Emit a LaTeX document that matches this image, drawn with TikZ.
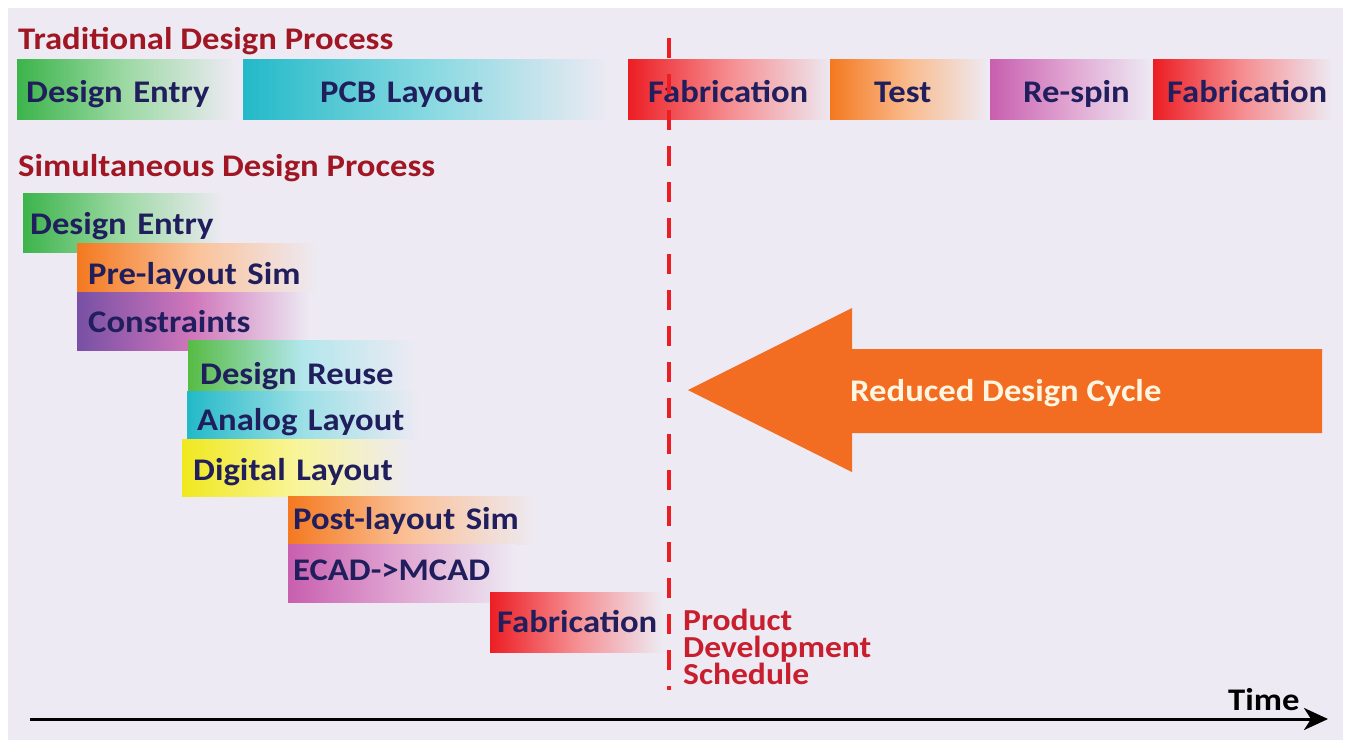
\documentclass[tikz,border=0pt]{standalone}
\usepackage{fontspec}
\setmainfont{Carlito}[FakeStretch=1.1]
\usetikzlibrary{arrows.meta}
\definecolor{bgc}{RGB}{237,234,243}
\definecolor{navy}{RGB}{32,30,92}
\definecolor{titlered}{RGB}{160,22,35}
\definecolor{pdsred}{RGB}{200,30,45}
\definecolor{cgreen}{RGB}{60,180,75}
\definecolor{ccyan}{RGB}{35,185,200}
\definecolor{cred}{RGB}{236,30,36}
\definecolor{corange}{RGB}{244,121,32}
\definecolor{cmagenta}{RGB}{200,95,175}
\definecolor{cpurple}{RGB}{120,80,165}
\definecolor{cyellow}{RGB}{240,232,30}
\definecolor{arrowor}{RGB}{242,108,34}
\definecolor{cream}{RGB}{255,246,225}
\newcommand\lblfont{\bfseries\fontsize{31.5}{34}\selectfont}
\begin{document}
\begin{tikzpicture}[x=1pt,y=-1pt,
  bar/.style={anchor=north west, inner ysep=0pt, align=left, font=\lblfont, text=navy},
  barbox/.style n args={4}{text height=#1pt, text depth=#2pt, text width=#3pt, inner xsep=#4pt},
  title/.style={anchor=base west, inner sep=0pt, font=\lblfont, text=titlered},
  dashline/.style={draw=cred, line width=4pt, dash pattern=on 20pt off 16pt},
  axis/.style={line width=3pt, -{Stealth[length=24pt,width=22pt,inset=7pt]}}
]
\useasboundingbox (0,0) rectangle (1351,740);
\fill[white] (0,0) rectangle (1351,740);
\fill[bgc] (8,8) rectangle (1343,740);

% titles
\node[title] (ttrad) at (18,49) {Traditional Design Process};
\node[title] (tsim) at (18,176) {Simultaneous Design Process};

% traditional row (top 59, bottom 119, baseline 102)
\node[bar, barbox={43}{17}{200}{9}, left color=cgreen, right color=bgc, middle color=cgreen!50!white] (t1) at (17,59) {\mbox{Design Entry}};
\node[bar, barbox={43}{17}{211}{77}, left color=ccyan, right color=bgc, middle color=ccyan!55!white] (t2) at (243,59) {\mbox{PCB Layout}};
\node[bar, barbox={43}{17}{165}{20}, left color=cred, right color=bgc, middle color=cred!50!white] (t3) at (628,59) {\mbox{Fabrication}};
\node[bar, barbox={43}{17}{70}{44}, left color=corange, right color=bgc, middle color=corange!50!white] (t4) at (830,59) {\mbox{Test}};
\node[bar, barbox={43}{17}{96}{33}, left color=cmagenta, right color=bgc, middle color=cmagenta!55!white] (t5) at (990,59) {\mbox{Re-spin}};
\node[bar, barbox={43}{17}{152}{14}, left color=cred, right color=bgc, middle color=cred!50!white] (t6) at (1153,59) {\mbox{Fabrication}};

% simultaneous
\node[bar, barbox={41}{18}{186}{7}, left color=cgreen, right color=bgc, middle color=cgreen!50!white] (s1) at (23,193) {\mbox{Design Entry}};
\node[bar, barbox={41}{8}{218}{11}, left color=corange, right color=bgc, middle color=corange!45!white] (s2) at (77,243) {\mbox{Pre-layout Sim}};
\node[bar, barbox={40}{18}{210}{11}, left color=cpurple, right color=bgc, middle color=cmagenta!85!white] (s3) at (77,292) {\mbox{Constraints}};
\node[bar, barbox={44}{7}{204}{12}, left color=cgreen!85!cyellow, right color=bgc, middle color=ccyan!35!white] (s4) at (188,340) {\mbox{Design Reuse}};
\node[bar, barbox={39}{9}{212}{10}, left color=ccyan, right color=bgc, middle color=ccyan!45!white] (s5) at (187,391) {\mbox{Analog Layout}};
\node[bar, barbox={41}{16}{206}{11}, left color=cyellow, right color=bgc, middle color=cyellow!45!white] (s6) at (182,439) {\mbox{Digital Layout}};
\node[bar, barbox={33}{15}{238}{5}, left color=corange, right color=bgc, middle color=corange!45!white] (s7) at (288,496) {\mbox{Post-layout Sim}};
\node[bar, barbox={36}{22}{218}{5}, left color=cmagenta, right color=bgc, middle color=cmagenta!55!white] (s8) at (288,544) {\mbox{ECAD->MCAD}};
\node[bar, barbox={40}{20}{158}{7}, left color=cred, right color=bgc, middle color=cred!50!white] (s9) at (490,592) {\mbox{Fabrication}};

% dashed schedule line
\coordinate (dtop) at (669,38);
\coordinate (dbot) at (669,690);
\draw[dashline] (dtop) -- (dbot);

\node[anchor=north west, inner sep=0pt, align=left, font=\bfseries\fontsize{30.5}{27}\selectfont, text=pdsred] (pds) at (683,609) {Product\\Development\\Schedule};

% reduced design cycle arrow
\fill[arrowor] (688,390) -- (852,308) -- (852,349) -- (1322,349) -- (1322,433) -- (852,433) -- (852,472) -- cycle;
\node[anchor=base west, inner sep=0pt, font=\bfseries\fontsize{31.5}{30}\selectfont, text=cream] (rdc) at (850,401) {Reduced Design Cycle};

% time axis
\coordinate (ax0) at (30,719);
\coordinate (ax1) at (1328,719);
\draw[axis] (ax0) -- (ax1);
\node[anchor=base west, inner sep=0pt, font=\bfseries\fontsize{31.5}{30}\selectfont, text=black] (time) at (1228,710) {Time};
\end{tikzpicture}
\end{document}
